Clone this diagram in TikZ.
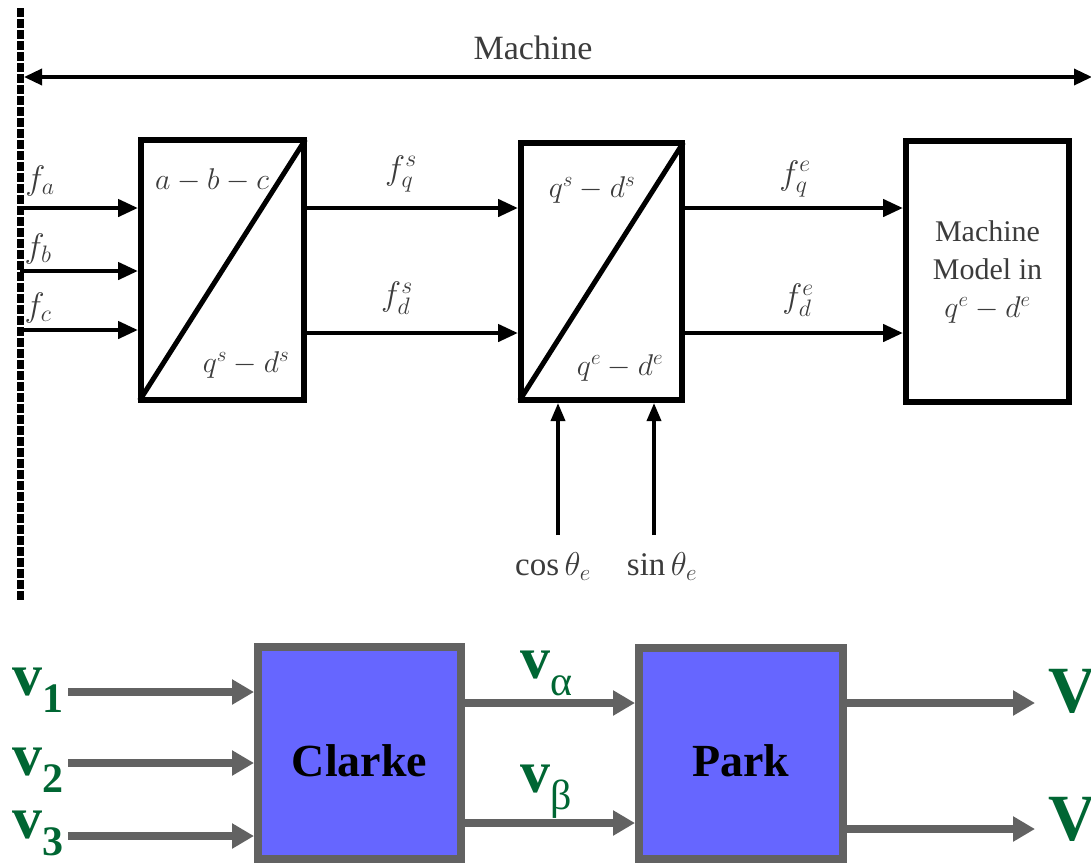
\RequirePackage{fix-cm}
\documentclass[tikz,border=0pt]{standalone}
\usepackage{fontspec}
\setmainfont{Liberation Serif}
\usetikzlibrary{arrows.meta}
\definecolor{agrey}{HTML}{626262}
\definecolor{bblue}{HTML}{6666FF}
\definecolor{vgreen}{HTML}{006633}
\definecolor{tgrey}{HTML}{3C3C3C}
\tikzset{
  topbox/.style={draw=black, line width=6pt, inner sep=0pt},
  toparrow/.style={draw=black, line width=4.5pt, -{Triangle[length=20pt,width=17pt]}},
  thinarrow/.style={draw=black, line width=3.5pt, -{Triangle[length=18pt,width=14pt]}},
  diag/.style={draw=black, line width=5pt, shorten <=3pt, shorten >=3pt},
  bus/.style={draw=black, line width=7pt, dash pattern=on 9pt off 2pt},
  toplabel/.style={text=tgrey, font=\fontsize{30}{36}\selectfont, inner sep=0pt},
  siglabel/.style={toplabel, font=\fontsize{34}{40}\selectfont},
  botbox/.style={draw=agrey, fill=bblue, line width=8pt, inner sep=0pt,
     font=\fontsize{46}{46}\selectfont\bfseries, text height=46pt, text depth=0pt},
  botarrow/.style={draw=agrey, line width=8pt, -{Triangle[length=22pt,width=24pt]}},
  vlabel/.style={text=vgreen, inner sep=0pt, anchor=base west},
}
\newcommand{\vsub}[2]{{\fontsize{60}{60}\selectfont\bfseries #1}\raisebox{-17pt}{\fontsize{42}{42}\selectfont #2}}
\begin{document}
\begin{tikzpicture}[x=1pt,y=-1pt]
\useasboundingbox (0,0) rectangle (1091,863);

% ---------- top diagram ----------
\coordinate (bt) at (20,8);
\coordinate (bb) at (20,600);
\draw[bus] (bt) -- (bb);

\coordinate (ml) at (24,77);
\coordinate (mr) at (1092,77);
\draw[draw=black, line width=3.5pt, {Triangle[length=18pt,width=16pt]}-{Triangle[length=18pt,width=16pt]}] (ml) -- (mr);
\node[toplabel, font=\fontsize{34}{40}\selectfont] (mach) at (533,48) {Machine};

\node[topbox, minimum width=163pt, minimum height=260pt] (A) at (222.5,270) {};
\node[topbox, minimum width=161pt, minimum height=257pt] (B) at (601.5,271.5) {};
\node[topbox, minimum width=163pt, minimum height=261pt, align=center,
      text=tgrey, font=\fontsize{30}{38}\selectfont] (C) at (987.5,271.5)
      {Machine\\Model in\\$q^e-d^e$};

\draw[diag] (A.south west) -- (A.north east);
\draw[diag] (B.south west) -- (B.north east);

\node[toplabel] (abc) at (212,180) {$a-b-c$};
\node[toplabel] (qdsA) at (246,365) {$q^s-d^s$};
\node[toplabel] (qdsB) at (592,190) {$q^s-d^s$};
\node[toplabel] (qdeB) at (620,368) {$q^e-d^e$};

% inputs from the bus
\coordinate (ia) at (20,208);
\coordinate (ib) at (20,271);
\coordinate (ic) at (20,330);
\draw[toparrow] (ia) -- (A.west |- ia);
\draw[toparrow] (ib) -- (A.west |- ib);
\draw[toparrow] (ic) -- (A.west |- ic);
\node[siglabel] (fa) at (40,181) {$f_a$};
\node[siglabel] (fb) at (38,249) {$f_b$};
\node[siglabel] (fc) at (38,308) {$f_c$};

% A -> B
\coordinate (ab1) at (A.east |- 0,208);
\coordinate (ab2) at (A.east |- 0,333);
\draw[toparrow] (ab1) -- (B.west |- ab1);
\draw[toparrow] (ab2) -- (B.west |- ab2);
\node[siglabel] (fqs) at (401,174) {$f_q^s$};
\node[siglabel] (fds) at (397,298) {$f_d^s$};

% B -> C
\coordinate (bc1) at (B.east |- 0,208);
\coordinate (bc2) at (B.east |- 0,333);
\draw[toparrow] (bc1) -- (C.west |- bc1);
\draw[toparrow] (bc2) -- (C.west |- bc2);
\node[siglabel] (fqe) at (795,179) {$f_q^e$};
\node[siglabel] (fde) at (798,300) {$f_d^e$};

% cos / sin inputs
\coordinate (cs) at (558,535);
\coordinate (sn) at (654,535);
\draw[thinarrow] (cs) -- (B.south -| cs);
\draw[thinarrow] (sn) -- (B.south -| sn);
\node[toplabel, font=\fontsize{33}{40}\selectfont] (cosl) at (553,567) {$\cos\theta_e$};
\node[toplabel, font=\fontsize{33}{40}\selectfont] (sinl) at (662,567) {$\sin\theta_e$};

% ---------- bottom diagram ----------
\node[botbox, minimum width=203pt, minimum height=212pt] (clarke) at (359.5,753) {Clarke};
\node[botbox, minimum width=204pt, minimum height=211pt] (park) at (741,753.5) {Park};

\coordinate (v1s) at (68,692);
\coordinate (v2s) at (68,763);
\coordinate (v3s) at (68,836);
\draw[botarrow] (v1s) -- (clarke.west |- v1s);
\draw[botarrow] (v2s) -- (clarke.west |- v2s);
\draw[botarrow] (v3s) -- (clarke.west |- v3s);
\node[vlabel] (v1) at (12,695) {\vsub{v}{\bfseries 1}};
\node[vlabel] (v2) at (12,775) {\vsub{v}{\bfseries 2}};
\node[vlabel] (v3) at (12,838) {\vsub{v}{\bfseries 3}};

\coordinate (cp1) at (clarke.east |- 0,703);
\coordinate (cp2) at (clarke.east |- 0,823);
\draw[botarrow] (cp1) -- (park.west |- cp1);
\draw[botarrow] (cp2) -- (park.west |- cp2);
\node[vlabel] (va) at (520,678) {\vsub{v}{α}};
\node[vlabel] (vb) at (520,792) {\vsub{v}{β}};

\coordinate (po1) at (park.east |- 0,703);
\coordinate (po2) at (park.east |- 0,829);
\coordinate (pe1) at (1035,703);
\coordinate (pe2) at (1035,829);
\draw[botarrow] (po1) -- (pe1);
\draw[botarrow] (po2) -- (pe2);
\node[vlabel, font=\fontsize{66}{66}\selectfont\bfseries] (Vd) at (1048,712) {V};
\node[vlabel, font=\fontsize{66}{66}\selectfont\bfseries] (Vq) at (1048,840) {V};
\end{tikzpicture}
\end{document}
